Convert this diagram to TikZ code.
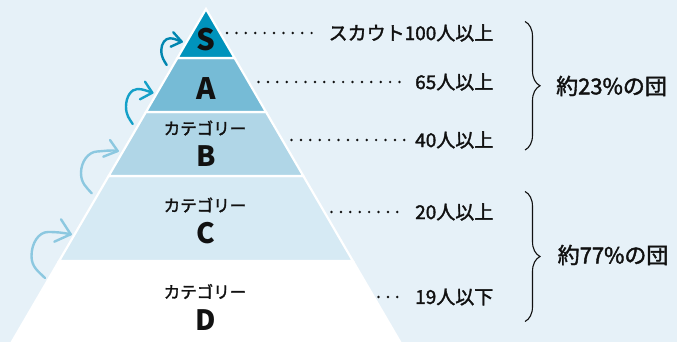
\documentclass[tikz,border=0pt]{standalone}
\usepackage{fontspec}
\setmainfont{Noto Sans CJK JP}
\newfontfamily\jpmed{Noto Sans CJK JP}[FakeBold=1.8]
\usetikzlibrary{arrows.meta,decorations.pathreplacing}
\definecolor{bgc}{HTML}{E6F1F8}
\definecolor{tierS}{HTML}{0093BC}
\definecolor{tierA}{HTML}{76BBD6}
\definecolor{tierB}{HTML}{B0D6E7}
\definecolor{tierC}{HTML}{D6EAF4}
\definecolor{arrDark}{HTML}{0086B0}
\definecolor{arrMid}{HTML}{14A0C8}
\definecolor{arrLight}{HTML}{8CC8E0}
\definecolor{ink}{HTML}{111111}
\begin{document}
\begin{tikzpicture}[x=1pt,y=-1pt,
  tier/.style={draw=white, line width=2.2pt, line join=miter},
  letterbig/.style={font=\fontsize{29.5}{29}\selectfont\bfseries, text=ink, inner sep=0pt},
  letter/.style={font=\fontsize{28}{28}\selectfont\bfseries, text=ink, inner sep=0pt},
  cat/.style={font=\jpmed\fontsize{16.5}{18}\selectfont, text=ink, inner sep=0pt},
  lbl/.style={font=\jpmed\fontsize{19}{22}\selectfont, text=ink, inner sep=0pt, anchor=east},
  sumlbl/.style={font=\jpmed\fontsize{22}{24}\selectfont, text=ink, inner sep=0pt, anchor=west},
  leader/.style={line width=2.7pt, line cap=round, dash pattern=on 0pt off 9.4pt, draw=ink},
  climb/.style={line width=2.4pt, line cap=round, line join=round},
  brc/.style={decorate, decoration={brace, amplitude=15pt}, line width=1.1pt, draw=ink}
]
\useasboundingbox (0,0) rectangle (677,342);
\clip (0,0) rectangle (677,342);
\fill[bgc] (0,0) rectangle (677,342);

% tiers
\filldraw[tier, fill=white]  (59.1,261) -- (352.9,261) -- (401.9,345) -- (10.1,345) -- cycle;
\filldraw[tier, fill=tierC] (108.64,176) -- (303.36,176) -- (352.9,261) -- (59.1,261) -- cycle;
\filldraw[tier, fill=tierB] (145.95,112) -- (266.05,112) -- (303.36,176) -- (108.64,176) -- cycle;
\filldraw[tier, fill=tierA] (177.4,58) -- (234.6,58) -- (266.05,112) -- (145.95,112) -- cycle;
\filldraw[tier, fill=tierS] (206,9) -- (234.6,58) -- (177.4,58) -- cycle;

% tier texts
\node[letterbig] (tS) at (206,40) {S};
\node[letterbig] (tA) at (206,88.5) {A};
\node[cat] (cB) at (205,128) {カテゴリー};
\node[letter] (tB) at (206,156) {B};
\node[cat] (cC) at (205,205) {カテゴリー};
\node[letter] (tC) at (206,233) {C};
\node[cat] (cD) at (205,291.5) {カテゴリー};
\node[letter] (tD) at (206,320) {D};

% right labels
\node[lbl] (l1) at (493.5,33) {スカウト100人以上};
\node[lbl] (l2) at (493.5,82) {65人以上};
\node[lbl] (l3) at (493.5,140) {40人以上};
\node[lbl] (l4) at (493.5,212) {20人以上};
\node[lbl] (l5) at (493.5,297) {19人以下};

\coordinate (d1) at (227,33);
\coordinate (d2) at (258.5,82);
\coordinate (d3) at (291.5,140);
\coordinate (d4) at (331.5,212);
\coordinate (d5) at (378.5,297);
\draw[leader] (d1) -- ([xshift=-9pt]l1.west);
\draw[leader] (d2) -- ([xshift=-9pt]l2.west);
\draw[leader] (d3) -- ([xshift=-9pt]l3.west);
\draw[leader] (d4) -- ([xshift=-9pt]l4.west);
\draw[leader] (d5) -- ([xshift=-9pt]l5.west);

% braces
\coordinate (b1t) at (525,21.5);
\coordinate (b1b) at (525,150);
\coordinate (b2t) at (525,191.5);
\coordinate (b2b) at (525,321.5);
\draw[brc] (b1t) -- (b1b);
\draw[brc] (b2t) -- (b2b);
\node[sumlbl] (s1) at (556,86) {約23\%の団};
\node[sumlbl] (s2) at (557.5,255) {約77\%の団};

% climbing arrows (arc + open chevron head)
\coordinate (e1) at (181.7,41.7);
\draw[climb, draw=arrDark]
  (166.7,65) .. controls (164,60.5) and (161.3,57.5) .. (161.3,50)
  .. controls (161.3,43.6) and (165.2,38.3) .. (170,38.3)
  .. controls (174.7,38.3) and (177.6,40.5) .. (e1);
\draw[climb, draw=arrDark] (173.3,32.3) -- (e1) -- (170.7,46.7);

\coordinate (e2) at (152.3,92.7);
\draw[climb, draw=arrMid]
  (132.7,124) .. controls (129.4,118.8) and (126,115.3) .. (126,106.5)
  .. controls (126,96.9) and (131.2,89) .. (137.5,89)
  .. controls (143.3,89) and (146.9,91) .. (e2);
\draw[climb, draw=arrMid] (145,81.7) -- (e2) -- (140,99.3);

\coordinate (e3) at (117.7,151);
\draw[climb, draw=arrLight]
  (91.7,193.3) .. controls (86.4,187.2) and (81,183.2) .. (81,173)
  .. controls (81,161.7) and (88.2,152) .. (97,151.5)
  .. controls (105.3,151) and (110.5,149.8) .. (e3);
\draw[climb, draw=arrLight] (110,140) -- (e3) -- (103.3,156.7);

\coordinate (e4) at (70.7,234.3);
\draw[climb, draw=arrLight]
  (45,278) .. controls (38.3,271.4) and (31.5,267) .. (31.5,256)
  .. controls (31.5,242.8) and (38.9,232) .. (48,232)
  .. controls (57,232) and (62.6,232.6) .. (e4);
\draw[climb, draw=arrLight] (61,219.3) -- (e4) -- (54.3,241.7);
\end{tikzpicture}
\end{document}
